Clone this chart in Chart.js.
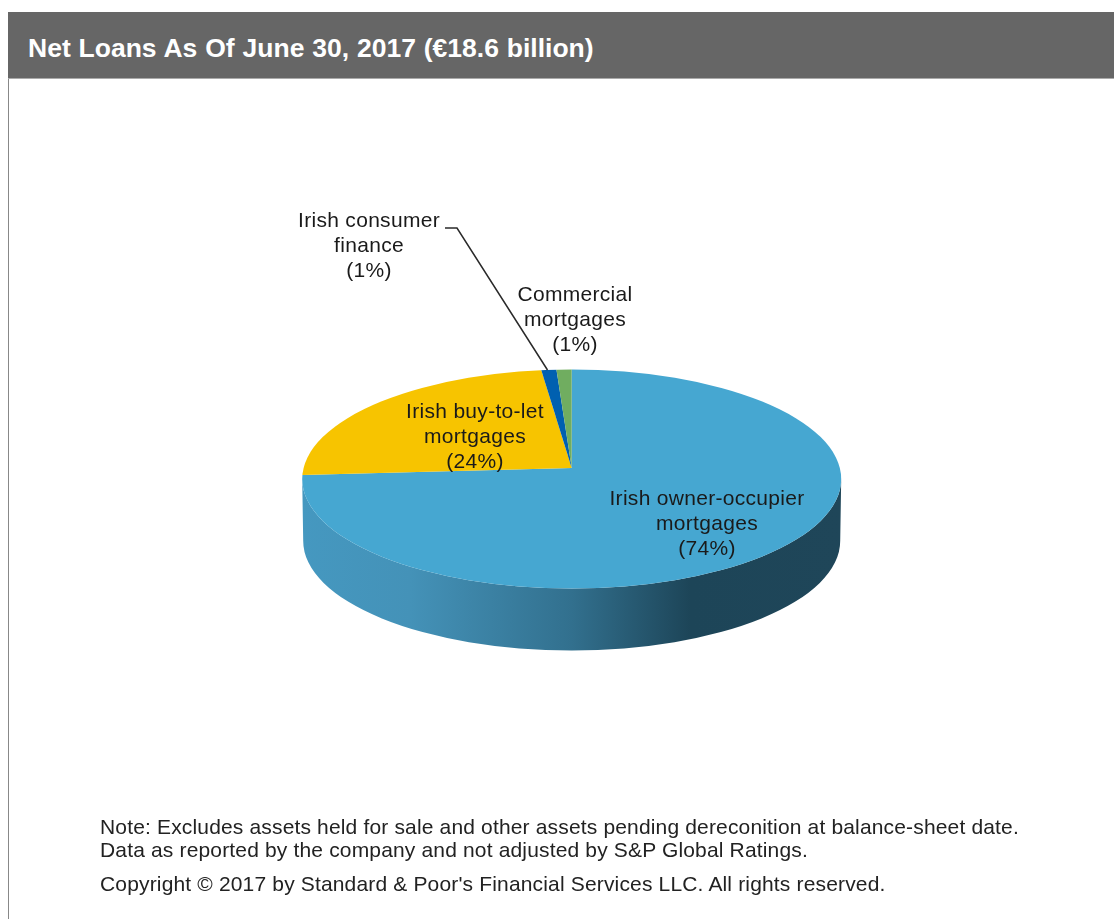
<!DOCTYPE html>
<html>
<head>
<meta charset="utf-8">
<title>Net Loans</title>
<script src="https://cdn.jsdelivr.net/npm/chart.js@4/dist/chart.umd.min.js"></script>
<style>
  html, body { margin: 0; padding: 0; background: #fff; }
  body { position: relative; width: 1114px; height: 919px; overflow: hidden; font-family: "Liberation Sans", Arial, sans-serif; }
  canvas { position: absolute; left: 0; top: 0; }
  .header { position: absolute; left: 8px; top: 12px; right: 0; height: 66px; line-height: 72px; background: #666; border-bottom: 1px solid #aaa; color: #fff; font-size: 26.5px; font-weight: bold; word-spacing: 0.5px; text-indent: 20px; white-space: pre; }
  .edge { position: absolute; left: 8px; top: 79px; bottom: 0; width: 1px; background: #888; }
  .note { position: absolute; left: 100px; color: #222; font-size: 21px; letter-spacing: 0.16px; white-space: pre; line-height: 22px; }
</style>
</head>
<body>
<canvas id="pieChart" width="1114" height="919"></canvas>
<div class="header" id="chartTitle"></div>
<div class="edge"></div>
<div class="note" id="note1" style="top:816px"></div>
<div class="note" id="note2" style="top:839px"></div>
<div class="note" id="note3" style="top:873px"></div>

<script>
const titleText = "Net Loans As Of June 30, 2017 (€18.6 billion)";
const noteLines = [
  "Note: Excludes assets held for sale and other assets pending dereconition at balance-sheet date.",
  "Data as reported by the company and not adjusted by S&P Global Ratings.",
  "Copyright © 2017 by Standard & Poor's Financial Services LLC. All rights reserved.",
];

const categories = [
  ["Irish owner-occupier", "mortgages"],
  ["Irish buy-to-let", "mortgages"],
  ["Irish consumer", "finance"],
  ["Commercial", "mortgages"],
];
const shares = [74, 24, 1, 1];
const sliceColors = ["#46a7d1", "#f7c400", "#0060b0", "#70ad60"];

// label centres, first line
const labelSpots = [[707, 498], [475, 411], [369, 220], [575, 294]];

/* rim of the disc, and how far the wedge apex sits above the rim centre */
const rimX = 571.7, rimY = 479, rimRx = 269.5, rimRy = 109.5;
const apexY = 468, wallDepth = 62;

document.getElementById("chartTitle").textContent = titleText;
noteLines.forEach((t, i) => (document.getElementById("note" + (i + 1)).textContent = t));

const discPlugin = {
  id: "disc",
  beforeDatasetsDraw(chart) {
    const ctx = chart.ctx;
    const arc = chart.getDatasetMeta(0).data[0];

    /* side wall */
    const wall = ctx.createLinearGradient(rimX - rimRx, 0, rimX + rimRx, 0);
    wall.addColorStop(0, "#4598c0");
    wall.addColorStop(0.2, "#4492b8");
    wall.addColorStop(0.5, "#32708e");
    wall.addColorStop(0.72, "#1d4558");
    wall.addColorStop(1, "#1f4659");
    ctx.beginPath();
    ctx.ellipse(rimX, rimY, rimRx, rimRy, 0, 0, Math.PI);
    ctx.lineTo(rimX - rimRx, rimY);
    ctx.ellipse(rimX, rimY + wallDepth, rimRx - 1, rimRy, 0, Math.PI, 0, true);
    ctx.lineTo(rimX + rimRx, rimY);
    ctx.closePath();
    ctx.fillStyle = wall;
    ctx.fill();

    /* top face: wedges squashed about the apex, cut by the rim */
    ctx.save();
    ctx.beginPath();
    ctx.ellipse(rimX, rimY, rimRx, rimRy, 0, 0, Math.PI * 2);
    ctx.clip();
    ctx.translate(arc.x, arc.y);
    ctx.scale(1, rimRy / rimRx);
    ctx.translate(-arc.x, -arc.y);
  },
  afterDatasetsDraw(chart) {
    chart.ctx.restore();
  },
  afterDraw(chart) {
    const ctx = chart.ctx;

    /* leader for the consumer finance label */
    ctx.beginPath();
    ctx.moveTo(445, 228);
    ctx.lineTo(457, 228);
    ctx.lineTo(547.5, 370);
    ctx.strokeStyle = "#2a2a2a";
    ctx.lineWidth = 1.5;
    ctx.stroke();

    ctx.font = '21px "Liberation Sans", Arial, sans-serif';
    ctx.letterSpacing = "0.3px";
    ctx.fillStyle = "#1a1a1a";
    ctx.textAlign = "center";
    ctx.textBaseline = "middle";
    categories.forEach((lines, i) => {
      const [x, y] = labelSpots[i];
      [...lines, `(${shares[i]}%)`].forEach((t, n) => ctx.fillText(t, x, y + 1 + n * 25));
    });
  },
};

new Chart(document.getElementById("pieChart"), {
  type: "pie",
  data: {
    labels: categories.map((c) => c.join(" ")),
    datasets: [{ data: shares, backgroundColor: sliceColors, borderWidth: 0, clip: false }],
  },
  options: {
    responsive: false,
    animation: false,
    layout: { padding: { top: 168, bottom: 151, left: 271.7, right: 242.3 } },
    plugins: { legend: { display: false }, tooltip: { enabled: false } },
  },
  plugins: [discPlugin],
});
</script>
</body>
</html>
